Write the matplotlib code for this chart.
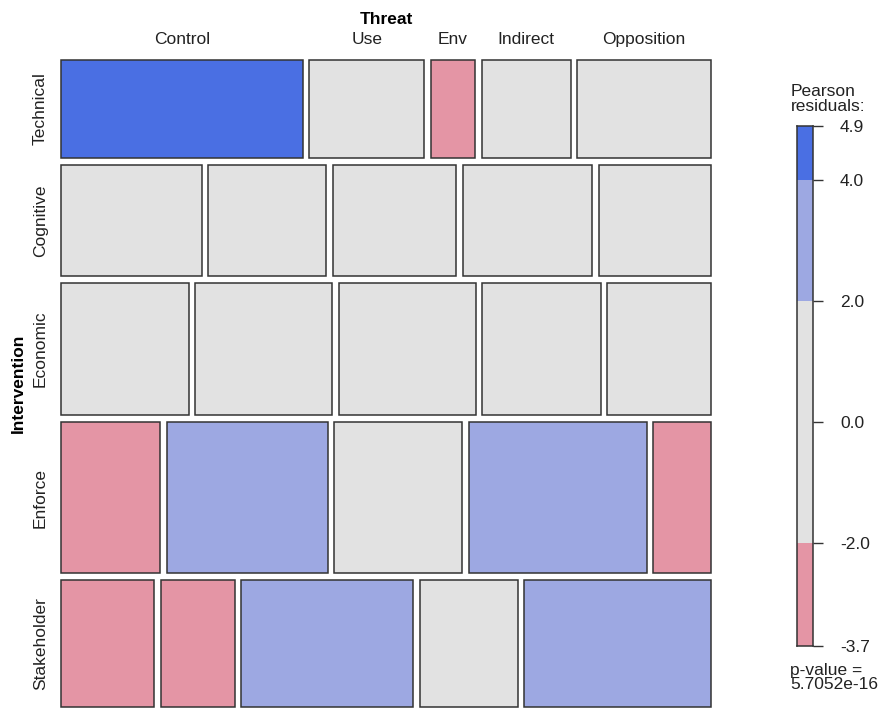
import numpy as np
import matplotlib
matplotlib.use("Agg")
import matplotlib.pyplot as plt

plt.rcParams['font.family'] = ['Liberation Sans', 'DejaVu Sans']

# Mosaic data (Intervention x Threat)
interventions = ['Technical', 'Cognitive', 'Economic', 'Enforce', 'Stakeholder']
threats = ['Control', 'Use', 'Env', 'Indirect', 'Opposition']

technical = [38, 18, 7, 14, 21]
cognitive = [25, 21, 22, 23, 20]
economic = [27, 29, 29, 25, 22]
enforce = [24, 39, 31, 43, 14]
stakeholder = [19, 15, 35, 20, 38]

# estimated Pearson residuals per cell
res_technical = [4.9, 0.4, -2.6, -0.9, -1.1]
res_cognitive = [0.3, 0.8, 0.5, 0.9, 0.2]
res_economic = [-0.5, 0.9, 1.1, -0.3, 0.4]
res_enforce = [-2.5, 2.4, -0.2, 3.1, -3.7]
res_stakeholder = [-2.3, -2.1, 2.9, -1.0, 2.6]

legend_breaks = [-3.7, -2.0, 2.0, 4.0, 4.9]
legend_ticks = [-3.7, -2.0, 0.0, 2.0, 4.0, 4.9]
p_value = '5.7052e-16'

counts = np.array([technical, cognitive, economic, enforce, stakeholder], float)
resid = np.array([res_technical, res_cognitive, res_economic, res_enforce, res_stakeholder])

c_hi_pos = '#4A6FE3'
c_pos = '#9DA8E2'
c_mid = '#E2E2E2'
c_neg = '#E495A5'
c_hi_neg = '#D33F6A'
edge = '#333333'


def shade(r):
    if r > 4:
        return c_hi_pos
    if r > 2:
        return c_pos
    if r < -4:
        return c_hi_neg
    if r < -2:
        return c_neg
    return c_mid


W, H = 880, 710
fig = plt.figure(figsize=(W / 100, H / 100), dpi=100)
ax = fig.add_axes([61 / W, 1 - 707 / H, 650 / W, 647 / H])
ax.set_xlim(0, 1)
ax.set_ylim(1, 0)
ax.axis('off')

gx = 0.010
gy = 0.011
nr, nc = counts.shape
row_tot = counts.sum(axis=1)
heights = row_tot / row_tot.sum() * (1 - (nr - 1) * gy)

y = 0
for i in range(nr):
    widths = counts[i] / row_tot[i] * (1 - (nc - 1) * gx)
    x = 0
    for j in range(nc):
        ax.add_patch(plt.Rectangle((x, y), widths[j], heights[i], clip_on=False,
                                   facecolor=shade(resid[i, j]), edgecolor=edge, lw=1.1))
        if i == 0:
            ax.text(x + widths[j] / 2, -0.031, threats[j], ha='center', va='center',
                    fontsize=12.5, color='#222222')
        x += widths[j] + gx
    ax.text(-0.032, y + heights[i] / 2, interventions[i], rotation=90, ha='center',
            va='center', fontsize=12.5, color='#222222')
    y += heights[i] + gy

ax.text(0.5, -0.063, 'Threat', ha='center', va='center', fontsize=12.5, fontweight='bold')
ax.text(-0.065, 0.5, 'Intervention', rotation=90, ha='center', va='center',
        fontsize=12.5, fontweight='bold')

# legend bar
lax = fig.add_axes([797 / W, 1 - 646 / H, 16 / W, 520 / H])
lows = np.array(legend_breaks[:-1])
highs = np.array(legend_breaks[1:])
mids = (lows + highs) / 2
lax.bar(0, highs - lows, bottom=lows, width=1, color=[shade(m) for m in mids], lw=0)
lax.set_xlim(-0.5, 0.5)
lax.set_ylim(legend_breaks[0], legend_breaks[-1])
lax.set_xticks([])
lax.yaxis.tick_right()
lax.set_yticks(legend_ticks)
lax.set_yticklabels(['%.1f' % t for t in legend_ticks], fontsize=12.5, color='#222222')
lax.tick_params(axis='y', length=7.5, width=1, color=edge, pad=12)
for s in lax.spines.values():
    s.set_color(edge)
    s.set_linewidth(1.1)

fig.text(791 / W, 1 - 84 / H, 'Pearson\nresiduals:', ha='left', va='top', fontsize=12.5,
         linespacing=1.0, color='#222222')
fig.text(790 / W, 1 - 663 / H, 'p-value =\n' + p_value, ha='left', va='top', fontsize=12.5,
         linespacing=0.95, color='#222222')

fig.savefig('out.png', dpi=100)
